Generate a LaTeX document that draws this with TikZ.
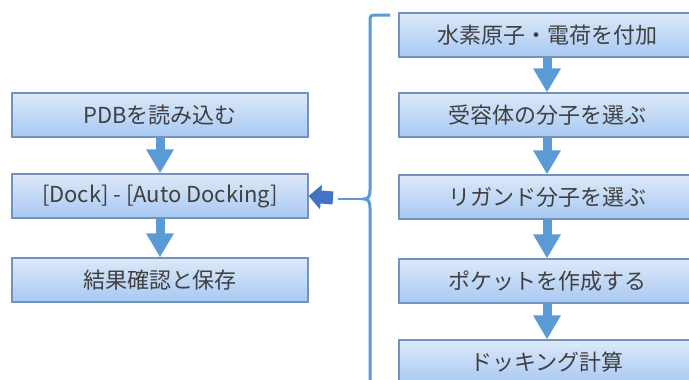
\documentclass[tikz,border=0pt]{standalone}
\usepackage{fontspec}
\newfontfamily\jpfont{Noto Sans CJK JP}
\usepackage{tikz}
\usetikzlibrary{arrows.meta}
\definecolor{boxtop}{HTML}{DDE9F9}
\definecolor{boxbottom}{HTML}{A7C8F3}
\definecolor{boxline}{HTML}{7393BD}
\definecolor{boxtext}{HTML}{404040}
\definecolor{arrowblue}{HTML}{5B9BD5}
\definecolor{dockblue}{HTML}{4472C4}
\tikzset{
	boxstyle/.style={rectangle,draw=boxline,line width=1.2pt,top color=boxtop,bottom color=boxbottom,minimum width=296pt,minimum height=44pt,inner sep=0pt,text=boxtext,font=\jpfont\fontsize{22}{25}\selectfont},
	downstyle/.style={draw=arrowblue,line width=9pt,-{Triangle[width=26pt,length=24pt]}},
	leftstyle/.style={draw=dockblue,line width=13pt,-{Triangle[width=24pt,length=12.5pt]}},
	bracestyle/.style={draw=arrowblue,line width=3pt}
}
\begin{document}
\begin{tikzpicture}[x=1pt,y=-1pt]
	\clip (0,0) rectangle (689,380);
	\fill[white] (0,0) rectangle (689,380);
	\foreach \y/\t [count=\i] in {115/PDBを読み込む,196/{[Dock] - [Auto Docking]},280/結果確認と保存}
	{
		\node[boxstyle] (l\i) at (160,\y) {\t};
	}
	\foreach \y/\t [count=\i] in {35/水素原子・電荷を付加,115/受容体の分子を選ぶ,197/リガンド分子を選ぶ,281/ポケットを作成する,362/ドッキング計算}
	{
		\node[boxstyle] (r\i) at (547,\y) {\t};
	}
	\foreach \i [count=\j from 2] in {1,2}
	\draw[downstyle] (l\i)--(l\j);
	\foreach \i [count=\j from 2] in {1,...,4}
	\draw[downstyle] (r\i)--(r\j);
	\coordinate (tail) at (333,198);
	\coordinate (cusp) at (364,199);
	\draw[leftstyle] (tail)--(l2.east);
	\draw[bracestyle,line width=2pt] (338,199)--(cusp);
	\draw[bracestyle] (390,15) -- (378,15) .. controls (370,15) .. (370,23) -- (370,190)
		.. controls (370,197) and (368,199) .. (cusp)
		.. controls (368,199) and (370,201) .. (370,208) -- (370,390);
\end{tikzpicture}
\end{document}
